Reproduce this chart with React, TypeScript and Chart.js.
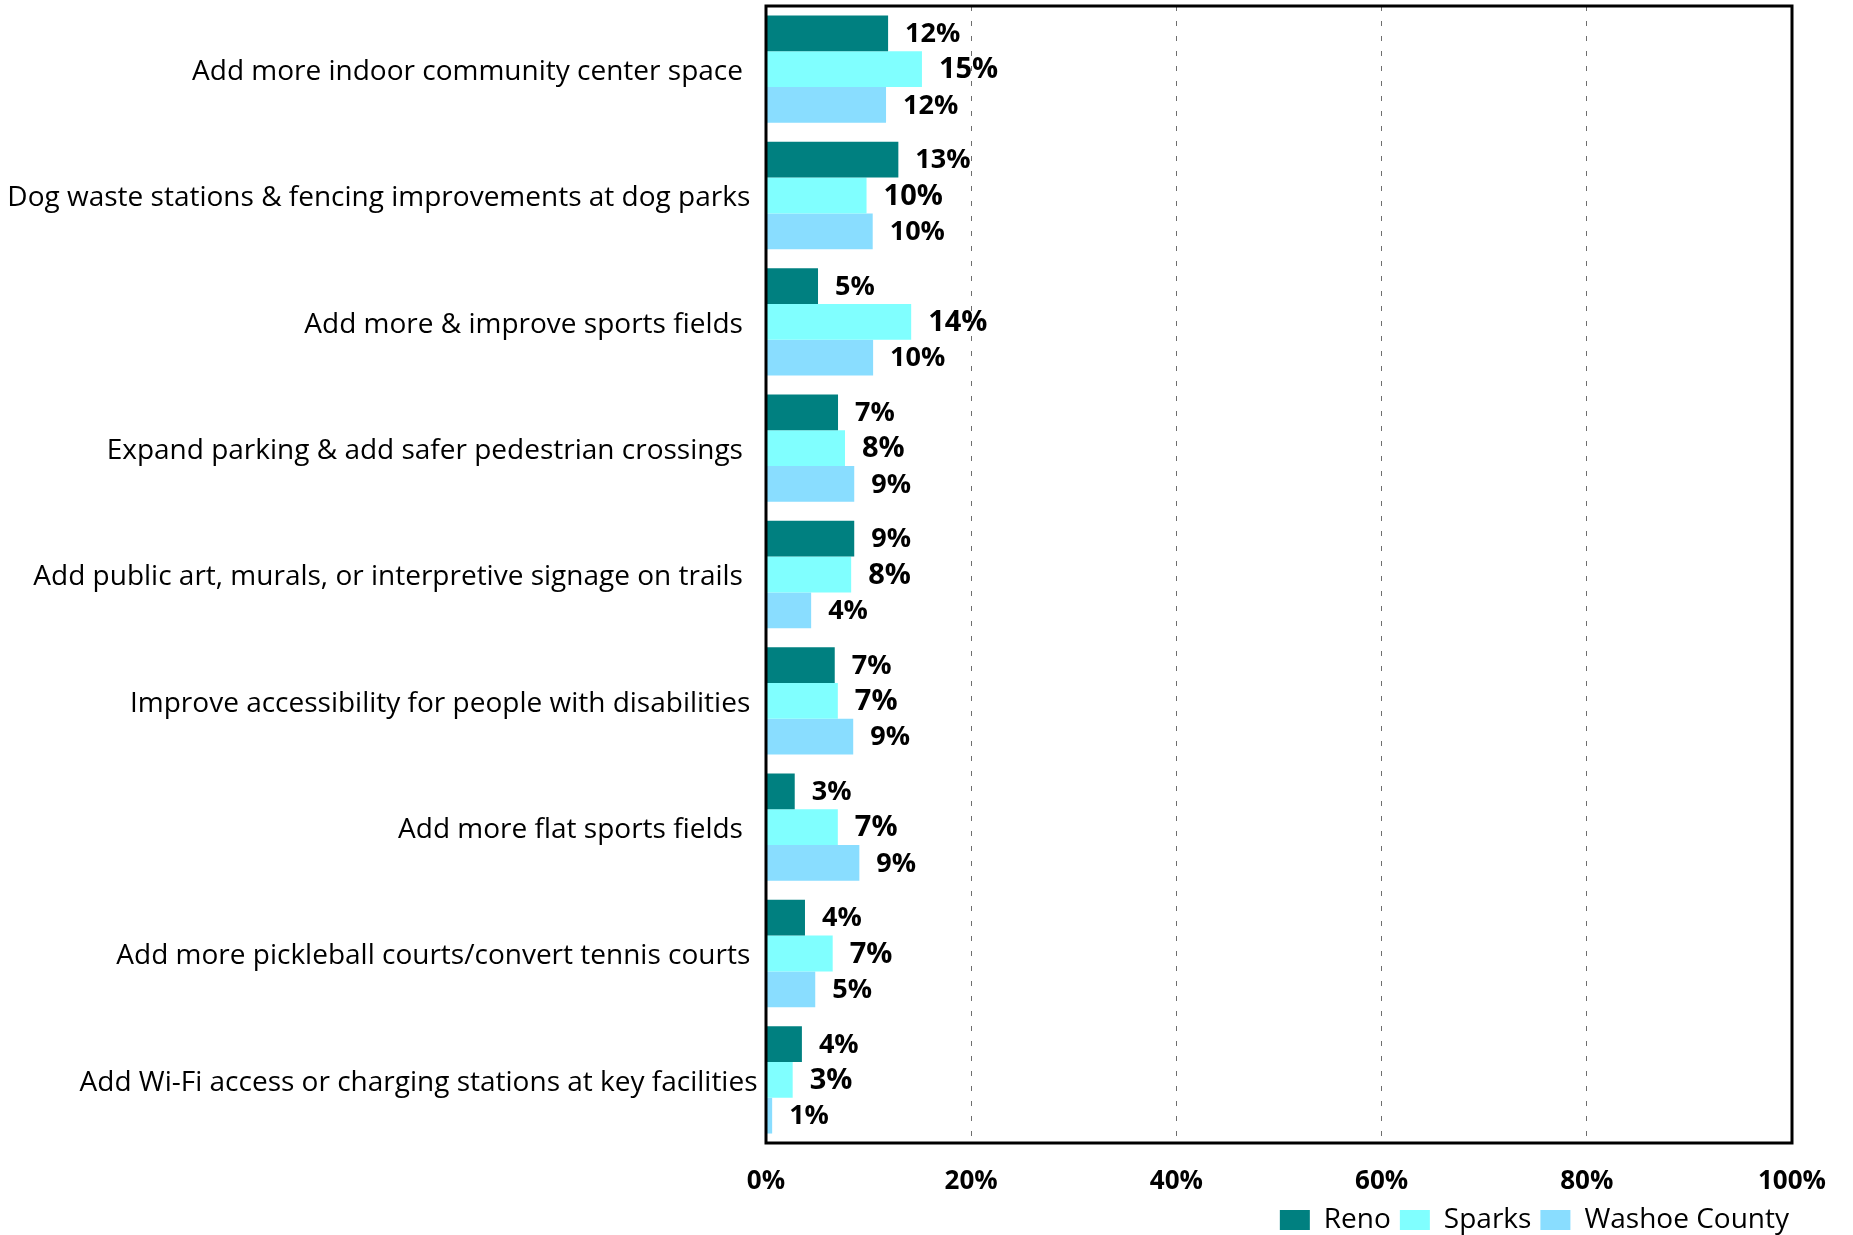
import React, { useEffect, useRef } from 'react';
import { Chart, registerables } from 'chart.js';

Chart.register(...registerables);

const categories = [
  'Add more indoor community center space  ',
  'Dog waste stations & fencing improvements at dog parks ',
  'Add more & improve sports fields  ',
  'Expand parking & add safer pedestrian crossings  ',
  'Add public art, murals, or interpretive signage on trails  ',
  'Improve accessibility for people with disabilities ',
  'Add more flat sports fields  ',
  'Add more pickleball courts/convert tennis courts ',
  'Add Wi-Fi access or charging stations at key facilities',
];

const seriesNames = ['Reno', 'Sparks', 'Washoe County'];
const renoValues = [11.9, 12.9, 5.07, 7.02, 8.6, 6.7, 2.8, 3.8, 3.5];
const sparksValues = [15.2, 9.8, 14.15, 7.7, 8.3, 7.0, 7.0, 6.5, 2.6];
const washoeValues = [11.7, 10.4, 10.44, 8.6, 4.4, 8.5, 9.1, 4.8, 0.6];
const xTicks = [0, 20, 40, 60, 80, 100];

const colors = ['#008080', '#80FFFF', '#89DDFF'];
const labelSizes = [27, 29, 27];
const FONT = '"Open Sans"';

export default function App() {
  const ref = useRef<HTMLCanvasElement>(null);

  useEffect(() => {
    if (!ref.current) return;

    const framePlugin = {
      id: 'frame',
      afterDatasetsDraw(chart: any) {
        const { ctx, chartArea: a } = chart;
        ctx.save();
        ctx.strokeStyle = '#000';
        ctx.lineWidth = 3;
        ctx.strokeRect(a.left, a.top, a.right - a.left, a.bottom - a.top);
        ctx.restore();
      },
    };

    const labelPlugin = {
      id: 'barLabels',
      afterDatasetsDraw(chart: any) {
        const { ctx } = chart;
        ctx.save();
        ctx.fillStyle = '#000';
        ctx.textAlign = 'left';
        ctx.textBaseline = 'middle';
        chart.data.datasets.forEach((ds: any, di: number) => {
          ctx.font = `bold ${labelSizes[di]}px ${FONT}`;
          const meta = chart.getDatasetMeta(di);
          meta.data.forEach((el: any, i: number) => {
            const v = ds.data[i];
            ctx.fillText(Math.round(v) + '%', el.x + 17, el.y + 1);
          });
        });
        ctx.restore();
      },
    };

    const layoutTweak = {
      id: 'layoutTweak',
      afterLayout(chart: any) {
        if (chart.legend) {
          chart.legend.left += 6;
          chart.legend.right += 6;
        }
        if (chart.scales.x) {
          chart.scales.x.bottom = chart.height;
        }
      },
    };

    const chart = new Chart(ref.current, {
      type: 'bar',
      data: {
        labels: categories,
        datasets: [
          { label: seriesNames[0], data: renoValues, backgroundColor: colors[0] },
          { label: seriesNames[1], data: sparksValues, backgroundColor: colors[1] },
          { label: seriesNames[2], data: washoeValues, backgroundColor: colors[2] },
        ],
      },
      options: {
        indexAxis: 'y',
        animation: false,
        responsive: false,
        devicePixelRatio: 1,
        datasets: {
          bar: { categoryPercentage: 0.85, barPercentage: 1.0 },
        },
        layout: { padding: { top: 6, right: 61, left: 0, bottom: 0 } },
        scales: {
          x: {
            min: 0,
            max: 100,
            afterBuildTicks: (s: any) => {
              s.ticks = xTicks.map((v) => ({ value: v }));
            },
            ticks: {
              callback: (v: any) => v + '%',
              font: { family: FONT, size: 26, weight: 'bold' },
              color: '#000',
              padding: 23,
              maxRotation: 0,
            },
            grid: {
              color: (c: any) =>
                c.tick && (c.tick.value === 0 || c.tick.value === 100) ? 'rgba(0,0,0,0)' : '#6e6e6e',
              lineWidth: 1,
              drawTicks: false,
            },
            border: { display: false, dash: [5, 10] },
            afterFit: (s: any) => {
              s.height = 54;
              s.paddingLeft = 0;
              s.paddingRight = 0;
            },
          },
          y: {
            ticks: {
              font: { family: FONT, size: 28 },
              color: '#000',
              padding: 8.5,
              labelOffset: 3,
              autoSkip: false,
            },
            grid: { display: false, drawTicks: false },
            border: { display: false },
            afterFit: (s: any) => {
              s.width = 766;
              s.paddingTop = 0;
              s.paddingBottom = 0;
            },
          },
        },
        plugins: {
          legend: {
            position: 'bottom',
            align: 'end',
            labels: {
              font: { family: FONT, size: 28 },
              color: '#000',
              boxWidth: 30,
              boxHeight: 20,
              padding: 9,
            },
          },
          tooltip: { enabled: false },
        },
      },
      plugins: [framePlugin, labelPlugin, layoutTweak],
    } as any);

    return () => chart.destroy();
  }, []);

  return (
    <div
      style={{
        position: 'fixed',
        left: 0,
        top: 0,
        width: 1853,
        height: 1235,
        overflow: 'hidden',
        background: '#fff',
      }}
    >
      <canvas ref={ref} width={1853} height={1244} style={{ display: 'block' }} />
    </div>
  );
}
